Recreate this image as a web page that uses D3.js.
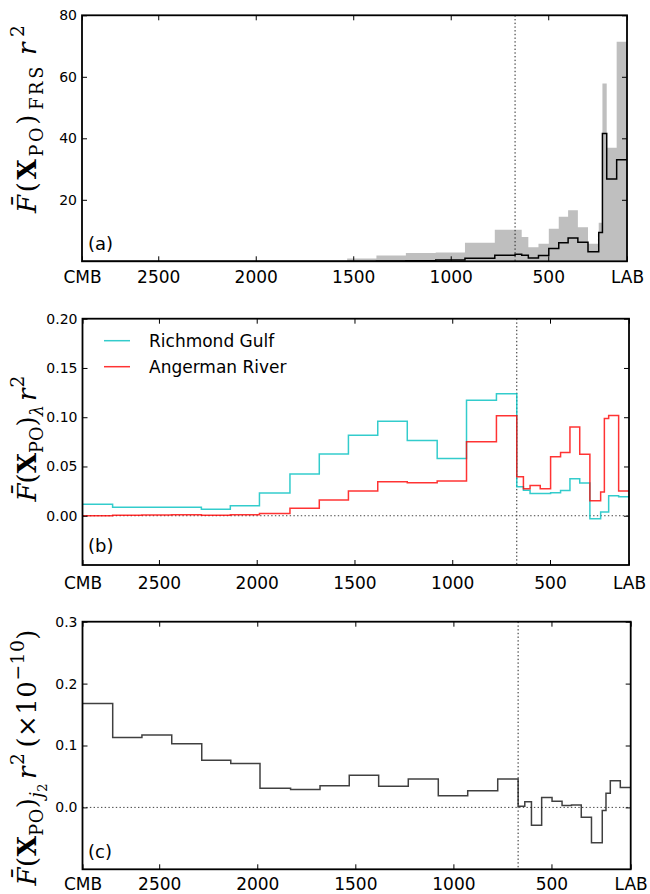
<!DOCTYPE html>
<html><head><meta charset="utf-8">
<script src="https://cdn.jsdelivr.net/npm/d3@7"></script>
<style>body{margin:0;background:#fff}</style>
</head><body><svg id="chart" width="650" height="894"></svg>
<script>
// ---- data (depth in km, bins between successive edges) ----
const depthEdges = [2891, 2737, 2588, 2436, 2283, 2135, 1986, 1830, 1680, 1531, 1381, 1230, 1077, 927, 774, 670, 636, 602, 550, 497, 446, 398, 348, 296, 241, 222, 200, 149, 96];
const frsFill = [0,0,0,0,0,0,0,0,0, 0.9,1.85,2.7,2.9,6.0,10.3,10.3,7.9,4.55,5.7,10.6,14.5,16.6,11.1,5.7,12.5,57.8,36.9,71.4];
const frsLine = [0,0,0,0,0,0,0,0,0, 0.05,0.1,0.2,0.4,1.0,2.0,2.3,2.0,1.1,1.85,4.2,6.0,7.6,6.2,3.1,9.4,41.6,26.8,33.0];
const richmondGulf = [0.0116,0.0085,0.0085,0.0085,0.0065,0.0101,0.023,0.0423,0.0626,0.0818,0.096,0.0764,0.0582,0.1173,0.1237,0.0294,0.026,0.0227,0.0225,0.0233,0.0257,0.0375,0.0332,-0.003,0.0037,0.0037,0.0203,0.0193];
const angermanRiver = [0.0,0.0005,0.0008,0.001,0.0005,0.001,0.0024,0.0075,0.016,0.025,0.0345,0.0335,0.0352,0.075,0.1014,0.0396,0.0274,0.0308,0.0274,0.0598,0.0643,0.0902,0.0623,0.0152,0.024,0.0988,0.1018,0.025];
const j2Values = [0.168,0.113,0.117,0.103,0.076,0.071,0.031,0.029,0.035,0.052,0.034,0.046,0.019,0.027,0.046,0.002,0.009,-0.029,0.016,0.010,0.003,0.004,-0.016,-0.057,-0.005,0.023,0.043,0.032];
const xTickValues = [2891, 2500, 2000, 1500, 1000, 500, 96];
const xTickLabels = ["CMB", "2500", "2000", "1500", "1000", "500", "LAB"];
const transitionDepth = 670;
const seriesNames = ["Richmond Gulf", "Angerman River"];
const panelLetters = ["(a)", "(b)", "(c)"];
const yTicksA = [20, 40, 60, 80];
const yTicksB = [0, 0.05, 0.10, 0.15, 0.20];
const yTicksC = [0, 0.1, 0.2, 0.3];

const svg = d3.select("#chart");
const SANS = "DejaVu Sans";
const SERIF = "DejaVu Serif";

const panels = [
  {x0: 82, x1: 627, yt: 15.3, yb: 261.3, yDomain: [0, 80], yTicks: yTicksA, fmt: d3.format("d"), xPad: 9.5, zero: false,
   labelCy: 119, labelLen: 188, letterY: 250},
  {x0: 82.5, x1: 629, yt: 318.7, yb: 565, yDomain: [-0.05, 0.2], yTicks: yTicksB, fmt: d3.format(".2f"), xPad: 11.5, zero: true,
   labelCy: 438.5, labelLen: 126, letterY: 551.7},
  {x0: 82.5, x1: 630.7, yt: 621.7, yb: 869.3, yDomain: [-0.1, 0.3], yTicks: yTicksC, fmt: d3.format(".1f"), xPad: 9, zero: true,
   labelCy: 757.5, labelLen: 256, letterY: 858}
];

function stepPoints(vals) {
  return depthEdges.map((d, i) => [d, vals[Math.min(i, vals.length - 1)]]);
}

function mathLabel(cx, cy, segs, fs, len) {
  const t = svg.append("text")
    .attr("transform", `translate(${cx},${cy}) rotate(-90)`)
    .attr("text-anchor", "middle")
    .attr("font-family", SERIF)
    .attr("font-size", fs)
    .attr("fill", "#000");
  let cur = 0;
  segs.forEach(s => {
    let shift = 0, size = fs;
    if (s.sub) { shift = 0.25 * fs; size = 0.68 * fs; }
    if (s.subsub) { shift = 0.42 * fs; size = 0.5 * fs; }
    if (s.sup) { shift = -0.45 * fs; size = 0.72 * fs; }
    const sp = t.append("tspan").attr("dy", shift - cur).attr("font-size", size).text(s.t);
    if (s.gap) sp.attr("dx", s.gap);
    if (s.it) sp.attr("font-style", "italic");
    if (s.b) sp.attr("font-weight", "bold");
    cur = shift;
  });
  const natural = t.node().getComputedTextLength();
  if (natural < len) t.attr("textLength", len).attr("lengthAdjust", "spacing");
}

panels.forEach((p, idx) => {
  const x = d3.scaleLinear().domain([depthEdges[0], depthEdges[depthEdges.length - 1]]).range([p.x0, p.x1]);
  const y = d3.scaleLinear().domain(p.yDomain).range([p.yb, p.yt]);
  const g = svg.append("g");

  const lineGen = d3.line().x(d => x(d[0])).y(d => y(d[1])).curve(d3.curveStepAfter);

  if (idx === 0) {
    const area = d3.area().x(d => x(d[0])).y0(y(0)).y1(d => y(d[1])).curve(d3.curveStepAfter);
    g.append("path").attr("d", area(stepPoints(frsFill))).attr("fill", "#bfbfbf").attr("stroke", "none");
  }

  // dotted reference lines
  g.append("line").attr("x1", x(transitionDepth)).attr("x2", x(transitionDepth))
    .attr("y1", p.yt).attr("y2", p.yb)
    .attr("stroke", "#222").attr("stroke-width", 1).attr("stroke-dasharray", "1.4,2.3");
  if (p.zero) {
    g.append("line").attr("x1", p.x0).attr("x2", p.x1).attr("y1", y(0)).attr("y2", y(0))
      .attr("stroke", "#444").attr("stroke-width", 1).attr("stroke-dasharray", "1.4,2.3");
  }

  if (idx === 0) {
    g.append("path").attr("d", lineGen(stepPoints(frsLine))).attr("fill", "none")
      .attr("stroke", "#000").attr("stroke-width", 1.5);
  } else if (idx === 1) {
    g.append("path").attr("d", lineGen(stepPoints(richmondGulf))).attr("fill", "none")
      .attr("stroke", "#00bfbf").attr("stroke-opacity", 0.8).attr("stroke-width", 1.5);
    g.append("path").attr("d", lineGen(stepPoints(angermanRiver))).attr("fill", "none")
      .attr("stroke", "#ff0000").attr("stroke-opacity", 0.8).attr("stroke-width", 1.5);
    // legend
    const leg = [["#00bfbf", 340.7], ["#ff0000", 366.7]];
    leg.forEach((l, i) => {
      g.append("line").attr("x1", 104).attr("x2", 130).attr("y1", l[1]).attr("y2", l[1])
        .attr("stroke", l[0]).attr("stroke-opacity", 0.8).attr("stroke-width", 1.5);
      g.append("text").attr("x", 149).attr("y", l[1]).attr("dy", "0.36em")
        .attr("font-family", SANS).attr("font-size", 17).text(seriesNames[i]);
    });
  } else {
    g.append("path").attr("d", lineGen(stepPoints(j2Values))).attr("fill", "none")
      .attr("stroke", "#000").attr("stroke-opacity", 0.75).attr("stroke-width", 1.5);
  }

  // axes (ticks inward)
  const axB = d3.axisBottom(x).tickValues(xTickValues).tickFormat((d, i) => xTickLabels[i])
    .tickSizeInner(-5).tickSizeOuter(0).tickPadding(p.xPad);
  const axT = d3.axisTop(x).tickValues(xTickValues).tickFormat("").tickSizeInner(-5).tickSizeOuter(0);
  const axL = d3.axisLeft(y).tickValues(p.yTicks).tickFormat(p.fmt).tickSizeInner(-5).tickSizeOuter(0).tickPadding(5);
  const axR = d3.axisRight(y).tickValues(p.yTicks).tickFormat("").tickSizeInner(-5).tickSizeOuter(0);

  const gb = g.append("g").attr("transform", `translate(0,${p.yb})`).call(axB);
  gb.selectAll("text").attr("font-family", SANS).attr("font-size", 17).attr("fill", "#000");
  g.append("g").attr("transform", `translate(0,${p.yt})`).call(axT);
  const gl = g.append("g").attr("transform", `translate(${p.x0},0)`).call(axL);
  gl.selectAll("text").attr("font-family", SANS).attr("font-size", 14).attr("fill", "#000");
  g.append("g").attr("transform", `translate(${p.x1},0)`).call(axR);
  g.selectAll(".domain").remove();
  g.selectAll(".tick line").attr("stroke", "#000").attr("stroke-width", 1);

  // frame
  g.append("rect").attr("x", p.x0).attr("y", p.yt).attr("width", p.x1 - p.x0).attr("height", p.yb - p.yt)
    .attr("fill", "none").attr("stroke", "#000").attr("stroke-width", 1.8);

  // panel letter
  g.append("text").attr("x", 88).attr("y", p.letterY).attr("font-family", SANS).attr("font-size", 18)
    .text(panelLetters[idx]);
});

// y labels
mathLabel(36, panels[0].labelCy, [
  {t: "F\u0304", it: true}, {t: "("}, {t: "X", b: true}, {t: "PO", sub: true}, {t: ")"},
  {t: "FRS", sub: true, gap: 2}, {t: "r", it: true, gap: 9}, {t: "2", sup: true, gap: 3}], 26, panels[0].labelLen);
mathLabel(36, panels[1].labelCy, [
  {t: "F\u0304", it: true}, {t: "("}, {t: "X", b: true}, {t: "PO", sub: true}, {t: ")"},
  {t: "\u03bb", sub: true, it: true}, {t: "r", it: true, gap: 4}, {t: "2", sup: true, gap: 1}], 26, panels[1].labelLen);
mathLabel(36, panels[2].labelCy, [
  {t: "F\u0304", it: true}, {t: "("}, {t: "X", b: true}, {t: "PO", sub: true}, {t: ")"},
  {t: "j", sub: true, it: true}, {t: "2", subsub: true}, {t: "r", it: true, gap: 4}, {t: "2", sup: true, gap: 1},
  {t: "(\u00d710", gap: 5}, {t: "\u221210", sup: true}, {t: ")"}], 26, panels[2].labelLen);
</script>
</body></html>
